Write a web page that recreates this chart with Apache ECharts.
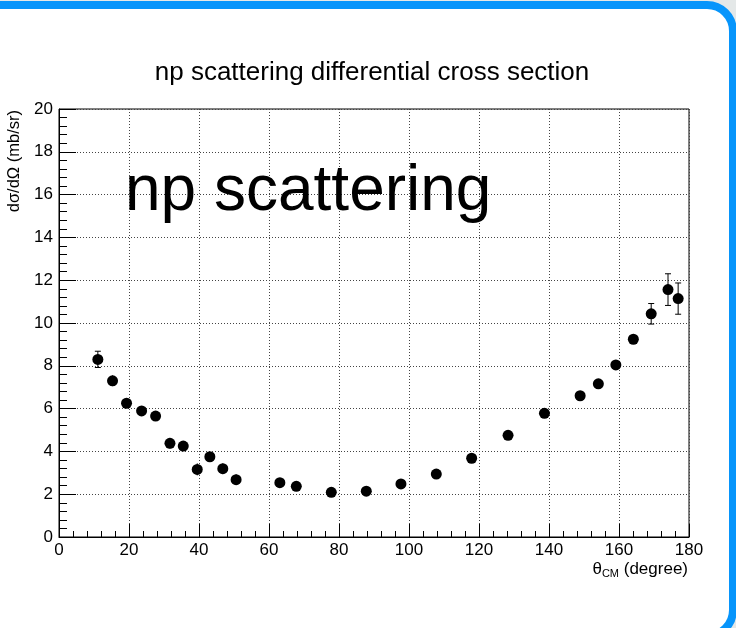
<!DOCTYPE html>
<html>
<head>
<meta charset="utf-8">
<script src="https://cdn.jsdelivr.net/npm/echarts@6/dist/echarts.min.js"></script>
<style>
    html, body {
        margin: 0;
        padding: 0;
        width: 736px;
        height: 628px;
        overflow: hidden;
        background: #e4e8e8;
    }
    .frame {
        position: absolute;
        left: -50px;
        top: 1px;
        width: 787px;
        height: 639px;
        box-sizing: border-box;
        border: 8px solid #0795fb;
        border-radius: 30px;
        background: #fff;
    }
    #chart {
        position: absolute;
        left: 0;
        top: 0;
        width: 736px;
        height: 628px;
    }
</style>
</head>
<body>
<div class="frame"></div>
<div id="chart"></div>
<script>
// theta_CM (degree), dsigma/dOmega (mb/sr), error (mb/sr)
const thetaCM = [11.1, 15.3, 19.3, 23.6, 27.6, 31.7, 35.5, 39.5, 43.1, 46.8, 50.6,
    63.1, 67.8, 77.8, 87.8, 97.7, 107.8, 117.9, 128.3, 138.7,
    148.9, 154.1, 159.1, 164.1, 169.2, 174.0, 176.9];
const crossSection = [8.30, 7.30, 6.25, 5.89, 5.65, 4.38, 4.25, 3.16, 3.75, 3.19, 2.68,
    2.54, 2.37, 2.09, 2.14, 2.48, 2.94, 3.68, 4.75, 5.78,
    6.60, 7.16, 8.04, 9.24, 10.43, 11.56, 11.14];
const crossErr = [0.38, 0.25, 0.15, 0.15, 0.12, 0.25, 0.15, 0.28, 0.12, 0.25, 0.25,
    0.10, 0.10, 0.08, 0.08, 0.10, 0.10, 0.10, 0.12, 0.12,
    0.20, 0.15, 0.15, 0.15, 0.48, 0.74, 0.73];
const xTicks = [0, 180, 20];
const yTicks = [0, 20, 2];

const points = thetaCM.map((t, i) => [t, crossSection[i]]);
const errPoints = thetaCM.map((t, i) => [t, crossSection[i], crossErr[i]]);

const font = 'Liberation Sans, Arial, Helvetica, sans-serif';
const markerSize = 11;

const chart = echarts.init(document.getElementById('chart'), null, {renderer: 'canvas'});

const option = {
    animation: false,
    backgroundColor: 'transparent',
    grid: {
        left: 59,
        top: 109,
        width: 630,
        height: 428,
        show: true,
        borderColor: '#000',
        borderWidth: 1,
        backgroundColor: 'transparent'
    },
    xAxis: {
        type: 'value',
        min: xTicks[0],
        max: xTicks[1],
        interval: xTicks[2],
        axisLine: {show: true, lineStyle: {color: '#000', width: 1}},
        axisTick: {show: true, inside: true, length: 13, lineStyle: {color: '#000'}},
        minorTick: {show: true, splitNumber: 5, length: 6, lineStyle: {color: '#000'}},
        splitLine: {show: true, lineStyle: {color: '#444', type: [1, 2], width: 1}},
        axisLabel: {color: '#000', fontSize: 17, fontFamily: font, margin: 5}
    },
    yAxis: {
        type: 'value',
        min: yTicks[0],
        max: yTicks[1],
        interval: yTicks[2],
        axisLine: {show: true, lineStyle: {color: '#000', width: 1}},
        axisTick: {show: true, inside: true, length: 17, lineStyle: {color: '#000'}},
        minorTick: {show: true, splitNumber: 5, length: 8, lineStyle: {color: '#000'}},
        splitLine: {show: true, lineStyle: {color: '#444', type: [1, 2], width: 1}},
        axisLabel: {color: '#000', fontSize: 17, fontFamily: font, margin: 6}
    },
    graphic: [
        {
            type: 'text',
            x: 372,
            y: 73,
            style: {
                text: 'np scattering differential cross section',
                font: '26px ' + font,
                fill: '#000',
                align: 'center',
                verticalAlign: 'middle'
            }
        },
        {
            type: 'text',
            x: 14,
            y: 110,
            rotation: Math.PI / 2,
            style: {
                text: 'dσ/dΩ (mb/sr)',
                font: '16.5px ' + font,
                fill: '#000',
                align: 'right',
                verticalAlign: 'middle'
            }
        },
        {
            type: 'text',
            x: 688,
            y: 569,
            style: {
                text: '{a|θ}{s|CM}{a| (degree)}',
                align: 'right',
                verticalAlign: 'middle',
                rich: {
                    a: {font: '17px ' + font, fill: '#000', verticalAlign: 'middle'},
                    s: {font: '11px ' + font, fill: '#000', padding: [10, 0, 0, 0]}
                }
            }
        },
        {
            type: 'text',
            x: 125,
            y: 160,
            z: 100,
            style: {
                text: 'np scattering',
                font: '64px ' + font,
                fill: '#000',
                align: 'left',
                verticalAlign: 'top'
            }
        }
    ],
    series: [
        {
            name: 'error',
            type: 'custom',
            z: 2,
            data: errPoints,
            renderItem: (params, api) => {
                const x = api.value(0);
                const y = api.value(1);
                const e = api.value(2);
                const top = api.coord([x, y + e]);
                const bot = api.coord([x, y - e]);
                const children = [{
                    type: 'line',
                    shape: {x1: top[0], y1: top[1], x2: bot[0], y2: bot[1]},
                    style: {stroke: '#000', lineWidth: 1}
                }];
                if ((bot[1] - top[1]) / 2 > markerSize / 2 + 1) {
                    children.push({
                        type: 'line',
                        shape: {x1: top[0] - 3, y1: top[1], x2: top[0] + 3, y2: top[1]},
                        style: {stroke: '#000', lineWidth: 1}
                    }, {
                        type: 'line',
                        shape: {x1: bot[0] - 3, y1: bot[1], x2: bot[0] + 3, y2: bot[1]},
                        style: {stroke: '#000', lineWidth: 1}
                    });
                }
                return {type: 'group', children: children};
            }
        },
        {
            name: 'data',
            type: 'scatter',
            z: 3,
            symbol: 'circle',
            symbolSize: markerSize,
            itemStyle: {color: '#000', opacity: 1},
            data: points
        }
    ]
};

chart.setOption(option);
</script>
</body>
</html>
